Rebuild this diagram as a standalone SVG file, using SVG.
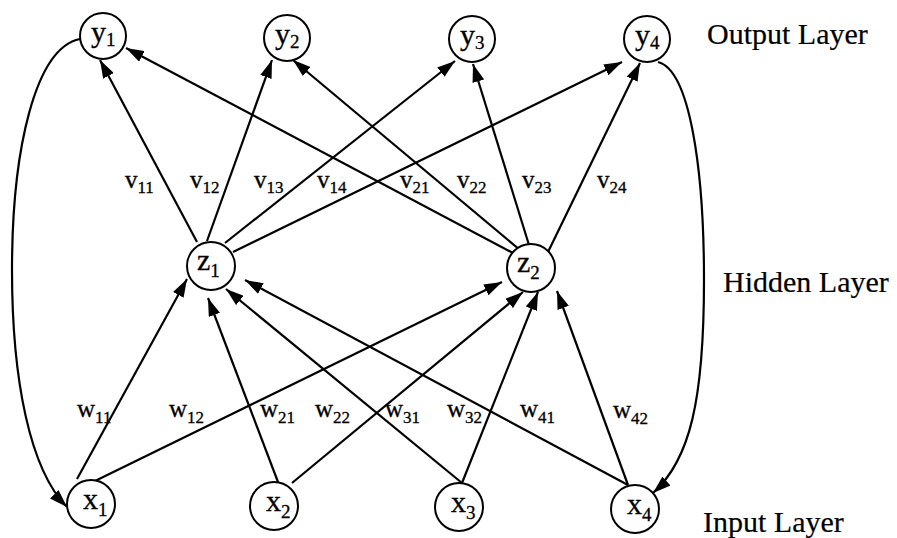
<svg xmlns="http://www.w3.org/2000/svg" width="897" height="538" viewBox="0 0 897 538">
<defs>
<marker id="ah" markerUnits="userSpaceOnUse" markerWidth="19" markerHeight="12" refX="18" refY="6" orient="auto">
<path d="M0,0 L18,6 L0,12 z" fill="#000"/>
</marker>
<style>
.n{fill:#fff;stroke:#000;stroke-width:2}
.e{fill:none;stroke:#000;stroke-width:2.2;marker-end:url(#ah)}
.t{font-family:"Liberation Serif","Times New Roman",serif;fill:#000;stroke:#000;stroke-width:0.3}
.nl{font-size:30px}
.ns{font-size:19px}
.wl{font-size:25px}
.ws{font-size:17px}
.ll{font-size:30px;stroke-width:0.2}
</style>
</defs>
<rect width="897" height="538" fill="#fff"/>
<g id="connectors">
<path class="e" d="M197,242 L100,60"/>
<path class="e" d="M207,241 L272,60"/>
<path class="e" d="M225,243 L455,61"/>
<path class="e" d="M233,252 L622,62"/>
<path class="e" d="M513,253 L126,48"/>
<path class="e" d="M520,250 L293,60"/>
<path class="e" d="M529,245 L473,64"/>
<path class="e" d="M548,252 L640,63"/>
<path class="e" d="M77,479 L187,279"/>
<path class="e" d="M95,481 L502,282"/>
<path class="e" d="M278,482 L208,298"/>
<path class="e" d="M292,483 L523,292"/>
<path class="e" d="M462,483 L226,289"/>
<path class="e" d="M462,483 L538,292"/>
<path class="e" d="M628,485 L245,280"/>
<path class="e" d="M628,485 L557,291"/>
<path class="e" d="M80,39 C35,48 12,150 12,270 C12,380 30,470 67,507"/>
<path class="e" d="M658,62 C690,70 704,170 704,280 C704,400 690,460 653,493"/>
</g>
<g id="y1"><circle class="n" cx="103" cy="36" r="23"/><text class="t nl" x="91" y="42">y<tspan class="ns" dy="4">1</tspan></text></g>
<g id="y2"><circle class="n" cx="287" cy="38" r="23"/><text class="t nl" x="275" y="44">y<tspan class="ns" dy="4">2</tspan></text></g>
<g id="y3"><circle class="n" cx="472" cy="39" r="23"/><text class="t nl" x="460" y="45">y<tspan class="ns" dy="4">3</tspan></text></g>
<g id="y4"><circle class="n" cx="647" cy="39" r="23"/><text class="t nl" x="635" y="45">y<tspan class="ns" dy="4">4</tspan></text></g>
<g id="z1"><circle class="n" cx="211" cy="266" r="24"/><text class="t nl" x="197" y="270">z<tspan class="ns" dy="7">1</tspan></text></g>
<g id="z2"><circle class="n" cx="531" cy="268" r="24"/><text class="t nl" x="517" y="272">z<tspan class="ns" dy="7">2</tspan></text></g>
<g id="x1"><circle class="n" cx="91" cy="504" r="24"/><text class="t nl" x="83" y="509">x<tspan class="ns" dy="7">1</tspan></text></g>
<g id="x2"><circle class="n" cx="274" cy="506" r="24"/><text class="t nl" x="266" y="511">x<tspan class="ns" dy="7">2</tspan></text></g>
<g id="x3"><circle class="n" cx="459" cy="507" r="24"/><text class="t nl" x="451" y="512">x<tspan class="ns" dy="7">3</tspan></text></g>
<g id="x4"><circle class="n" cx="635" cy="509" r="24"/><text class="t nl" x="627" y="514">x<tspan class="ns" dy="7">4</tspan></text></g>
<g id="weights">
<text class="t wl" x="125" y="188">v<tspan class="ws" dy="5">11</tspan></text>
<text class="t wl" x="190" y="188">v<tspan class="ws" dy="5">12</tspan></text>
<text class="t wl" x="254" y="188">v<tspan class="ws" dy="5">13</tspan></text>
<text class="t wl" x="317" y="188">v<tspan class="ws" dy="5">14</tspan></text>
<text class="t wl" x="400" y="188">v<tspan class="ws" dy="5">21</tspan></text>
<text class="t wl" x="457" y="188">v<tspan class="ws" dy="5">22</tspan></text>
<text class="t wl" x="522" y="188">v<tspan class="ws" dy="5">23</tspan></text>
<text class="t wl" x="597" y="188">v<tspan class="ws" dy="5">24</tspan></text>
<text class="t wl" x="77" y="417">w<tspan class="ws" dy="6">11</tspan></text>
<text class="t wl" x="169" y="417">w<tspan class="ws" dy="6">12</tspan></text>
<text class="t wl" x="260" y="417">w<tspan class="ws" dy="6">21</tspan></text>
<text class="t wl" x="315" y="417">w<tspan class="ws" dy="6">22</tspan></text>
<text class="t wl" x="385" y="417">w<tspan class="ws" dy="6">31</tspan></text>
<text class="t wl" x="447" y="417">w<tspan class="ws" dy="6">32</tspan></text>
<text class="t wl" x="520" y="417">w<tspan class="ws" dy="6">41</tspan></text>
<text class="t wl" x="613" y="418">w<tspan class="ws" dy="6">42</tspan></text>
</g>
<g id="layers">
<text class="t ll" x="707" y="44">Output Layer</text>
<text class="t ll" x="723" y="292">Hidden Layer</text>
<text class="t ll" x="703" y="532">Input Layer</text>
</g>
</svg>
